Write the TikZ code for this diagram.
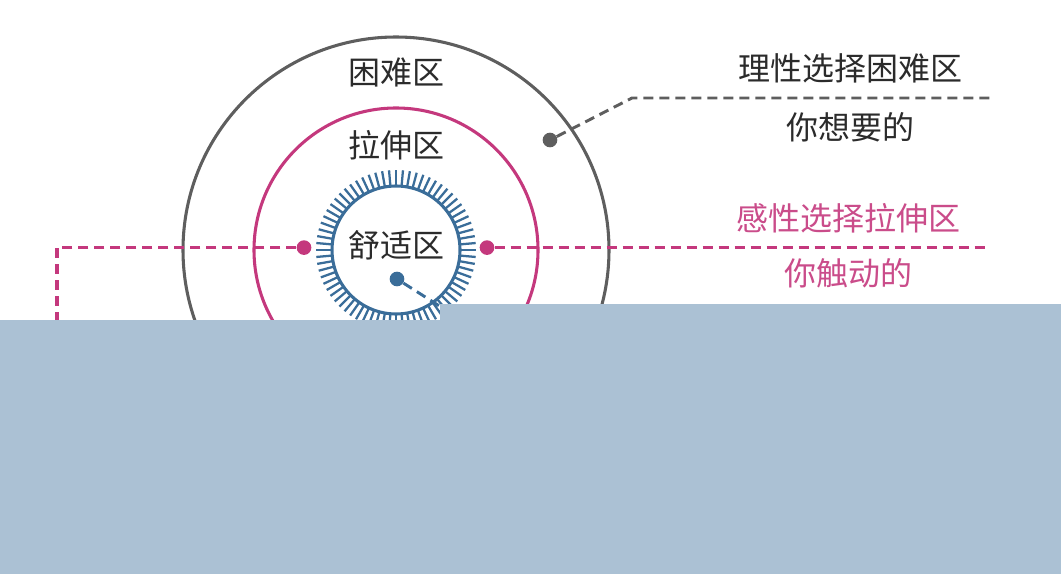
\documentclass[tikz,border=0pt]{standalone}
\usepackage{fontspec}
\setmainfont{Noto Sans CJK SC}
\usetikzlibrary{calc}
\definecolor{hardc}{HTML}{5E5E5E}
\definecolor{stretchc}{HTML}{C4387D}
\definecolor{comfc}{HTML}{3A6D99}
\definecolor{txt}{HTML}{2B2B2B}
\definecolor{cover}{HTML}{ABC1D4}
\tikzset{
  ring/.style={line width=2.3pt},
  zone/.style={font=\fontsize{24}{28}\selectfont, text=txt, inner sep=0pt},
  side/.style={font=\fontsize{24}{28}\selectfont, inner sep=0pt},
  zdot/.style={circle, fill, inner sep=0pt, minimum size=11pt},
  lead/.style={line width=2.2pt, dash pattern=on 7.5pt off 4.5pt},
  tick/.style={comfc, line width=1.7pt},
}

\begin{document}
\begin{tikzpicture}[x=0.75pt,y=-0.75pt]
  \useasboundingbox (0,0) rectangle (1061,574);
  \coordinate (c) at (396,250);
  % the three zones
  \draw[ring, hardc] (c) circle[radius=159.75pt];
  \draw[ring, stretchc] (c) circle[radius=106.5pt];
  \draw[ring, comfc] (c) circle[radius=48pt];
  \foreach \a in {0,5,...,355}
    \draw[tick] ([shift={(\a:48pt)}]c) -- ([shift={(\a:60pt)}]c);
  \node[zone] (hard) at (396,72) {困难区};
  \node[zone] (stretch) at (396,145) {拉伸区};
  \node[zone] (comfort) at (396,245) {舒适区};
  % leaders
  \node[zdot, hardc] (dh) at (550,140) {};
  \coordinate (kh) at (632,98);
  \coordinate (eh) at (990,98);
  \draw[lead, hardc] (dh) -- (kh) -- (eh);
  \node[zdot, stretchc] (dl) at (304,247.6) {};
  \node[zdot, stretchc] (dr) at (487,247.6) {};
  \coordinate (kl) at (57,247.6);
  \coordinate (bl) at (57,330);
  \coordinate (er) at (987,247.6);
  \draw[lead, stretchc, line width=2.5pt] (dl) -- (kl) -- (bl);
  \draw[lead, stretchc, line width=2.5pt] (dr) -- (er);
  \node[zdot, comfc] (dc) at (397,279) {};
  \coordinate (bc) at (452,314);
  \draw[lead, comfc] (dc) -- (bc);
  % side notes
  \node[side, text=txt] (reason) at (850,68) {理性选择困难区};
  \node[side, text=txt] (want) at (850,127) {你想要的};
  \node[side, text=stretchc!90!white] (feel) at (848,218) {感性选择拉伸区};
  \node[side, text=stretchc!90!white] (touch) at (848,273) {你触动的};
  % cover
  \fill[cover] (0,320) -- (440,320) -- (440,304) -- (1061,304) -- (1061,574) -- (0,574) -- cycle;
\end{tikzpicture}
\end{document}
